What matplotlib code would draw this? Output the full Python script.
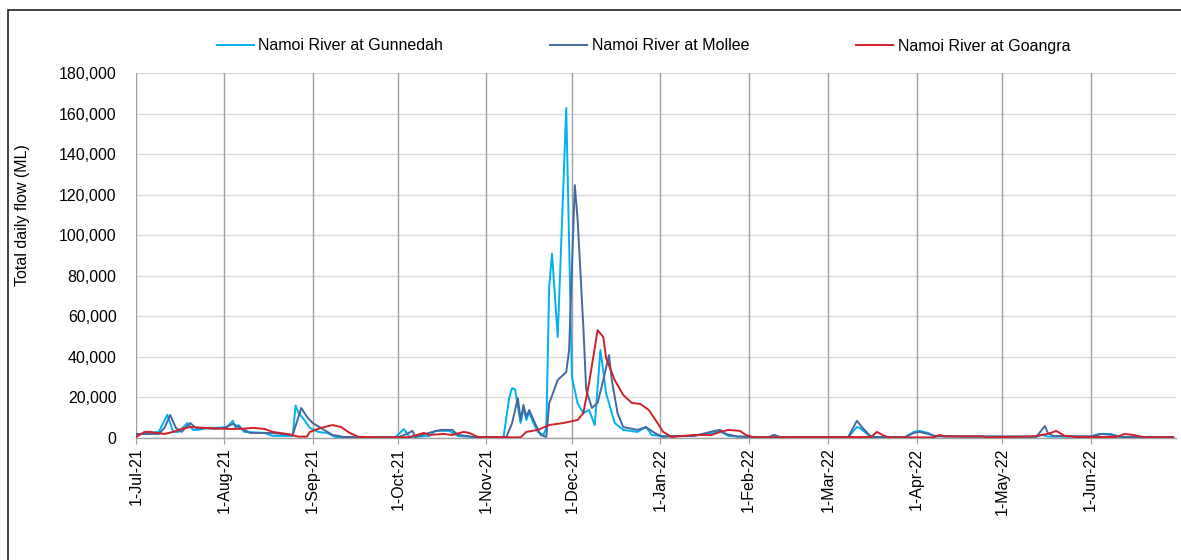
import pandas as pd
import matplotlib
matplotlib.use("Agg")
import matplotlib.pyplot as plt
from matplotlib.ticker import FuncFormatter
from matplotlib.patches import Rectangle

# Namoi River at Gunnedah (date, ML/day)
gunnedah_dates = ["2021-07-01", "2021-07-05", "2021-07-09", "2021-07-12", "2021-07-14", "2021-07-16",
                  "2021-07-19", "2021-07-21", "2021-07-23", "2021-07-26", "2021-07-29", "2021-08-02",
                  "2021-08-04", "2021-08-05", "2021-08-06", "2021-08-08", "2021-08-15", "2021-08-18",
                  "2021-08-25", "2021-08-26", "2021-08-27", "2021-08-29", "2021-08-31", "2021-09-03",
                  "2021-09-06", "2021-09-09", "2021-09-30", "2021-10-03", "2021-10-05", "2021-10-12",
                  "2021-10-14", "2021-10-19", "2021-10-22", "2021-10-27", "2021-11-07", "2021-11-09",
                  "2021-11-10", "2021-11-11", "2021-11-13", "2021-11-14", "2021-11-15", "2021-11-16",
                  "2021-11-17", "2021-11-19", "2021-11-21", "2021-11-22", "2021-11-23", "2021-11-24",
                  "2021-11-26", "2021-11-29", "2021-12-01", "2021-12-03", "2021-12-05", "2021-12-07",
                  "2021-12-09", "2021-12-11", "2021-12-13", "2021-12-16", "2021-12-19", "2021-12-24",
                  "2021-12-27", "2021-12-29", "2022-01-01", "2022-01-11", "2022-01-20", "2022-01-21",
                  "2022-01-23", "2022-01-25", "2022-01-29", "2022-02-01", "2022-03-08", "2022-03-11",
                  "2022-03-12", "2022-03-15", "2022-03-17", "2022-03-28", "2022-03-31", "2022-04-02",
                  "2022-04-05", "2022-04-07", "2022-04-17", "2022-05-13", "2022-05-15", "2022-05-17",
                  "2022-06-01", "2022-06-04", "2022-06-08", "2022-06-11", "2022-06-30"]
gunnedah_flow = [1500, 2500, 3000, 11500, 3000, 3000,
                 7400, 4000, 4000, 5000, 5000, 5400,
                 8500, 5000, 6400, 3000, 2500, 1000,
                 1000, 16000, 12500, 9000, 5000, 3000,
                 2500, 500, 300, 4400, 500, 1000,
                 3500, 3500, 1000, 500, 500, 20000,
                 24600, 24000, 7400, 14800, 8900, 12800,
                 8900, 3000, 1500, 5000, 74000, 91000,
                 49800, 162700, 30000, 17000, 12300, 13800,
                 6400, 43400, 22000, 7400, 4000, 3000,
                 5400, 1500, 1000, 1000, 2500, 3500,
                 2500, 1000, 700, 500, 500, 5400,
                 5000, 1500, 500, 500, 3000, 3500,
                 2500, 1000, 700, 600, 1500, 700,
                 700, 2000, 2000, 500, 500]

# Namoi River at Mollee
mollee_dates = ["2021-07-01", "2021-07-09", "2021-07-11", "2021-07-13", "2021-07-15", "2021-07-17",
                "2021-07-20", "2021-07-22", "2021-07-29", "2021-08-01", "2021-08-04", "2021-08-06",
                "2021-08-10", "2021-08-17", "2021-08-25", "2021-08-28", "2021-08-30", "2021-09-01",
                "2021-09-05", "2021-09-08", "2021-09-12", "2021-10-01", "2021-10-04", "2021-10-06",
                "2021-10-07", "2021-10-13", "2021-10-16", "2021-10-20", "2021-10-22", "2021-10-29",
                "2021-11-08", "2021-11-10", "2021-11-12", "2021-11-13", "2021-11-14", "2021-11-15",
                "2021-11-16", "2021-11-18", "2021-11-20", "2021-11-22", "2021-11-23", "2021-11-26",
                "2021-11-29", "2021-11-30", "2021-12-02", "2021-12-03", "2021-12-05", "2021-12-06",
                "2021-12-08", "2021-12-10", "2021-12-12", "2021-12-14", "2021-12-15", "2021-12-17",
                "2021-12-19", "2021-12-24", "2021-12-27", "2021-12-30", "2022-01-02", "2022-01-07",
                "2022-01-13", "2022-01-20", "2022-01-22", "2022-01-24", "2022-01-28", "2022-02-02",
                "2022-02-08", "2022-02-10", "2022-02-12", "2022-03-08", "2022-03-11", "2022-03-13",
                "2022-03-16", "2022-03-28", "2022-03-31", "2022-04-02", "2022-04-05", "2022-04-08",
                "2022-04-17", "2022-05-13", "2022-05-16", "2022-05-17", "2022-05-19", "2022-06-01",
                "2022-06-05", "2022-06-09", "2022-06-12", "2022-06-30"]
mollee_flow = [2000, 2000, 5000, 11300, 5000, 3000,
               7400, 5000, 4500, 5000, 7000, 5500,
               2500, 2500, 1500, 14800, 10400, 7400,
               4000, 1500, 500, 300, 2000, 3500,
               500, 3000, 4000, 4000, 1500, 300,
               500, 7400, 19700, 9000, 16300, 10400,
               13800, 7400, 1500, 500, 17000, 28600,
               32500, 43400, 124700, 107500, 54700, 23700,
               14800, 17300, 28600, 40900, 28600, 12300,
               5400, 4000, 5400, 2500, 500, 1000,
               1000, 3500, 4000, 2000, 700, 500,
               500, 1500, 500, 500, 8500, 5000,
               500, 500, 2500, 3000, 2000, 800,
               800, 700, 5900, 2500, 1000, 800,
               2000, 1500, 500, 500]

# Namoi River at Goangra
goangra_dates = ["2021-07-01", "2021-07-04", "2021-07-06", "2021-07-08", "2021-07-11", "2021-07-14",
                 "2021-07-17", "2021-07-20", "2021-07-25", "2021-08-02", "2021-08-07", "2021-08-11",
                 "2021-08-15", "2021-08-18", "2021-08-23", "2021-08-27", "2021-08-30", "2021-08-31",
                 "2021-09-04", "2021-09-08", "2021-09-11", "2021-09-14", "2021-09-17", "2021-09-25",
                 "2021-10-05", "2021-10-10", "2021-10-12", "2021-10-17", "2021-10-20", "2021-10-24",
                 "2021-10-26", "2021-10-29", "2021-11-13", "2021-11-15", "2021-11-19", "2021-11-23",
                 "2021-11-28", "2021-12-03", "2021-12-05", "2021-12-07", "2021-12-10", "2021-12-12",
                 "2021-12-13", "2021-12-16", "2021-12-19", "2021-12-22", "2021-12-25", "2021-12-28",
                 "2021-12-31", "2022-01-02", "2022-01-05", "2022-01-13", "2022-01-19", "2022-01-22",
                 "2022-01-25", "2022-01-29", "2022-01-31", "2022-02-03", "2022-03-16", "2022-03-18",
                 "2022-03-20", "2022-03-22", "2022-04-07", "2022-04-09", "2022-04-11", "2022-04-24",
                 "2022-04-26", "2022-05-12", "2022-05-17", "2022-05-20", "2022-05-23", "2022-05-27",
                 "2022-06-10", "2022-06-13", "2022-06-16", "2022-06-20", "2022-06-30"]
goangra_flow = [500, 3000, 3000, 2500, 2000, 3000,
                4500, 5400, 5000, 4500, 4500, 5000,
                4500, 3000, 2000, 700, 700, 3000,
                5000, 6400, 5400, 2500, 600, 300,
                400, 2500, 1500, 2000, 1500, 3000,
                2500, 500, 300, 3000, 4000, 6400,
                7400, 8900, 12300, 27000, 53200, 49800,
                39400, 28600, 21200, 17300, 16800, 13800,
                7400, 3000, 500, 1500, 1500, 3000,
                4000, 3500, 1500, 300, 500, 3000,
                1500, 300, 300, 1500, 800, 800,
                300, 800, 2000, 3500, 1000, 500,
                500, 2000, 1500, 300, 300]

series_names = ["Namoi River at Gunnedah", "Namoi River at Mollee", "Namoi River at Goangra"]
colors = ["#00B0F0", "#44689F", "#D0202A"]

plt.rcParams["font.family"] = ["Liberation Sans", "DejaVu Sans"]

fig = plt.figure(figsize=(11.81, 5.6), dpi=100)
ax = fig.add_axes([136 / 1181, 122 / 560, 1040 / 1181, 365 / 560])

all_dates = [gunnedah_dates, mollee_dates, goangra_dates]
all_flows = [gunnedah_flow, mollee_flow, goangra_flow]
for d, v, name, c in zip(all_dates, all_flows, series_names, colors):
    ax.plot(pd.to_datetime(d), v, color=c, lw=1.4, label=name, zorder=3)

ax.set_xlim(pd.Timestamp("2021-07-01"), pd.Timestamp("2022-07-01"))
ax.set_ylim(0, 180000)
ax.set_yticks(range(0, 180001, 20000))
ax.yaxis.set_major_formatter(FuncFormatter(lambda v, p: f"{int(v):,}"))

month_ticks = pd.date_range("2021-07-01", "2022-06-01", freq="MS")
ax.set_xticks(month_ticks)
ax.set_xticklabels([f"1-{t.strftime('%b-%y')}" for t in month_ticks], rotation=90, fontsize=11.5)

# grid: light horizontal, darker vertical month lines
ax.yaxis.grid(True, color="#D9D9D9", lw=1)
for t in month_ticks:
    ax.axvline(t, color="#A0A0A0", lw=1, zorder=1)
ax.set_axisbelow(True)

for s in ["top", "right", "left"]:
    ax.spines[s].set_visible(False)
ax.spines["bottom"].set_color("#A0A0A0")
ax.spines["bottom"].set_linewidth(1)
ax.tick_params(axis="x", direction="out", length=4, color="#A0A0A0", pad=3)
ax.tick_params(axis="y", length=0, pad=14, labelsize=11.5)

fig.text(23 / 1181, 1 - 215 / 560, "Total daily flow (ML)", rotation=90,
         ha="center", va="center", fontsize=11.5)

fig.legend(loc="center", bbox_to_anchor=(0.545, 1 - 46 / 560), ncol=3, frameon=False,
           fontsize=11.5, handlelength=2.3, handletextpad=0.3, columnspacing=6.7)

# outer chart border
fig.patches.append(Rectangle((8 / 1181, -0.1), 1.2, 1.1 - 10 / 560, transform=fig.transFigure,
                             fill=False, edgecolor="#202020", lw=1.2))

fig.savefig("out.png", dpi=100)
